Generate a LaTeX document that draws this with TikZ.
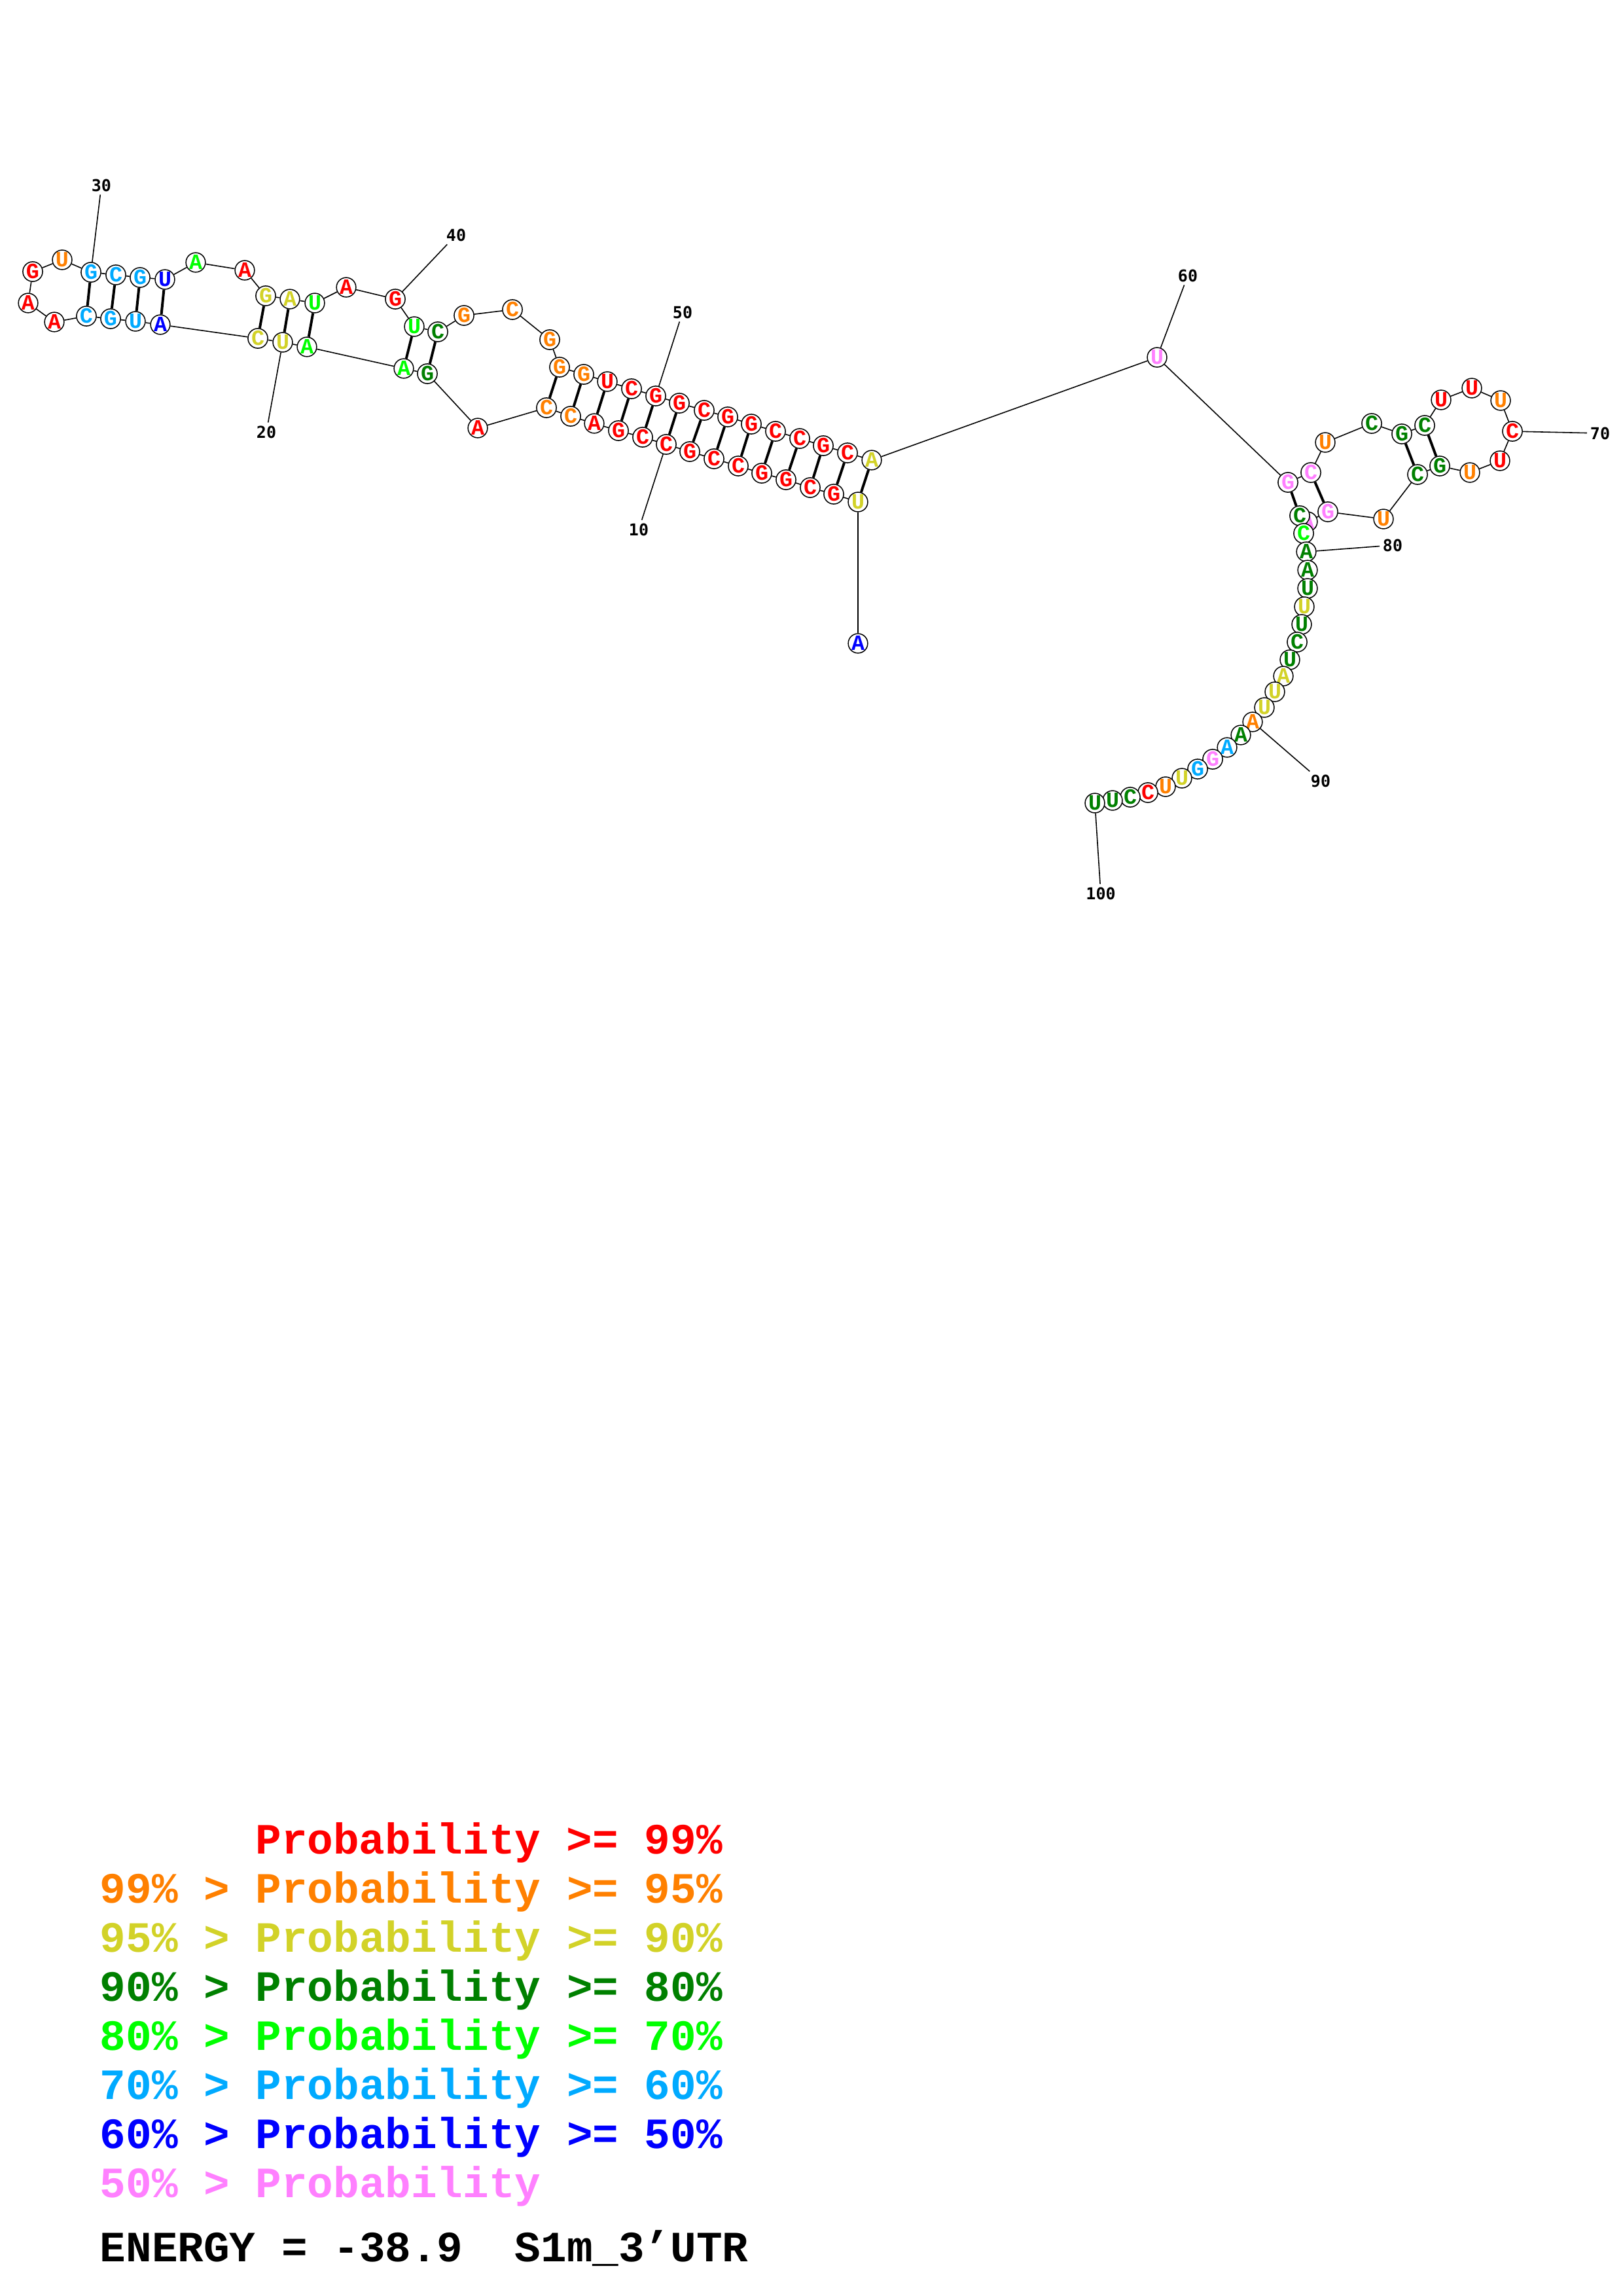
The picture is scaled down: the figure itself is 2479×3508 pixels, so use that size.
\documentclass[tikz,border=0pt]{standalone}
\usepackage{fontspec}
\newfontfamily\ntfont{Liberation Mono}
\newfontfamily\numfont{DejaVu Sans Mono}
\pgfdeclarelayer{bg}
\pgfsetlayers{bg,main}
\definecolor{cR}{RGB}{255,0,0}
\definecolor{cO}{RGB}{255,128,0}
\definecolor{cY}{RGB}{210,210,40}
\definecolor{cD}{RGB}{0,128,0}
\definecolor{cL}{RGB}{0,255,0}
\definecolor{cC}{RGB}{0,170,255}
\definecolor{cB}{RGB}{0,0,255}
\definecolor{cP}{RGB}{255,128,255}
\tikzset{
  nt/.style={circle,draw=black,line width=0.36pt,fill=white,minimum size=6.86pt,inner sep=0pt,
    font=\ntfont\bfseries\fontsize{8}{8}\selectfont},
  bb/.style={line width=0.38pt,black},
  bp/.style={line width=0.95pt,black},
  lab/.style={font=\numfont\bfseries\fontsize{6}{6}\selectfont,inner sep=1pt},
  leg/.style={anchor=base west,inner sep=0pt,font=\ntfont\bfseries\fontsize{15.85}{16}\selectfont}
}
\begin{document}
\begin{tikzpicture}[x=0.24pt,y=-0.24pt]
\useasboundingbox (0,0) rectangle (2479,3508);
\foreach \i/\x/\y/\l/\c in {
1/1311/983/A/cB, 2/1311/767/U/cY, 3/1274/755/G/cR, 4/1238/745/C/cR, 5/1201/733/G/cR,
6/1164/723/G/cR, 7/1128/712/C/cR, 8/1091/701/C/cR, 9/1054/690/G/cR, 10/1018/679/C/cR,
11/982/668/C/cR, 12/945/658/G/cR, 13/908/647/A/cR, 14/872/636/C/cO, 15/835/623/C/cO,
16/730/654/A/cR, 17/653/571/G/cD, 18/617/563/A/cL, 19/469/530/A/cL, 20/432/523/U/cY,
21/394/517/C/cY, 22/245/496/A/cB, 23/207/491/U/cC, 24/169/487/G/cC, 25/132/483/C/cC,
26/83/492/A/cR, 27/43/463/A/cR, 28/50/415/G/cR, 29/95/397/U/cO, 30/139/416/G/cC,
31/177/420/C/cC, 32/214/424/G/cC, 33/252/427/U/cB, 34/299/401/A/cL, 35/374/413/A/cR,
36/406/452/G/cY, 37/443/457/A/cY, 38/481/463/U/cL, 39/529/439/A/cR, 40/604/457/G/cR,
41/633/499/U/cL, 42/669/507/C/cD, 43/709/482/G/cO, 44/783/473/C/cO, 45/840/519/G/cO,
46/855/561/G/cO, 47/892/572/G/cO, 48/928/583/U/cR, 49/965/594/C/cR, 50/1002/605/G/cR,
51/1038/616/G/cR, 52/1076/627/C/cR, 53/1112/637/G/cR, 54/1148/648/G/cR, 55/1185/659/C/cR,
56/1222/670/C/cR, 57/1258/681/G/cR, 58/1295/692/C/cR, 59/1332/703/A/cY, 60/1768/546/U/cP,
61/1968/737/G/cP, 62/2003/722/C/cP, 63/2025/676/U/cO, 64/2096/647/C/cD, 65/2142/663/G/cD,
66/2177/650/C/cD, 67/2202/611/U/cR, 68/2249/593/U/cR, 69/2293/612/U/cO, 70/2311/659/C/cR,
71/2292/704/U/cR, 72/2246/722/U/cO, 73/2200/712/G/cD, 74/2166/725/C/cD, 75/2114/793/U/cO,
76/2029/782/G/cP, 77/1998/797/A/cP, 78/1986/788/C/cD, 79/1992/815/C/cL, 80/1996/843/A/cD,
81/1998/871/A/cD, 82/1998/899/U/cD, 83/1993/927/U/cY, 84/1989/954/U/cD, 85/1982/981/C/cD,
86/1971/1008/U/cD, 87/1961/1033/A/cY, 88/1948/1057/U/cY, 89/1932/1081/U/cY, 90/1914/1103/A/cO,
91/1896/1123/A/cD, 92/1875/1142/A/cC, 93/1853/1160/G/cP, 94/1830/1175/G/cC, 95/1806/1189/U/cY,
96/1781/1202/U/cO, 97/1754/1211/C/cR, 98/1727/1218/C/cD, 99/1700/1223/U/cD, 100/1673/1227/U/cD}
  \node[nt,text=\c] (n\i) at (\x,\y) {\l};
% number labels
\foreach \k/\x/\y in {10/976/809, 20/407/660, 30/155/283, 40/697/359, 50/1043/477,
  60/1815/421, 70/2445/662, 80/2128/833, 90/2018/1193, 100/1682/1365}
  \node[lab] (l\k) at (\x,\y) {\k};
\begin{pgfonlayer}{bg}
\fill[white] (0,0) rectangle (2479,3508);
\foreach \i [evaluate=\i as \j using int(\i+1)] in {1,...,99}
  \draw[bb] (n\i) -- (n\j);
\foreach \a/\b in {2/59,3/58,4/57,5/56,6/55,7/54,8/53,9/52,10/51,11/50,12/49,13/48,14/47,15/46,
  17/42,18/41,19/38,20/37,21/36,22/33,23/32,24/31,25/30,61/78,62/76,65/74,66/73}
  \draw[bp] (n\a) -- (n\b);
\foreach \k in {10,20,30,40,50,60,70,80,90,100}
  \draw[bb] (n\k) -- (l\k);
\end{pgfonlayer}
% legend
\node[leg,text=cR] (g1) at (389.6,2832) {Probability >= 99\%};
\node[leg,text=cO] (g2) at (152,2907.1) {99\% > Probability >= 95\%};
\node[leg,text=cY] (g3) at (152,2982.2) {95\% > Probability >= 90\%};
\node[leg,text=cD] (g4) at (152,3057.3) {90\% > Probability >= 80\%};
\node[leg,text=cL] (g5) at (152,3132.4) {80\% > Probability >= 70\%};
\node[leg,text=cC] (g6) at (152,3207.5) {70\% > Probability >= 60\%};
\node[leg,text=cB] (g7) at (152,3282.6) {60\% > Probability >= 50\%};
\node[leg,text=cP] (g8) at (152,3357.7) {50\% > Probability};
\node[leg,text=black] (g9) at (152,3455) {ENERGY = -38.9\ \ S1m\_3’UTR};
\end{tikzpicture}
\end{document}
